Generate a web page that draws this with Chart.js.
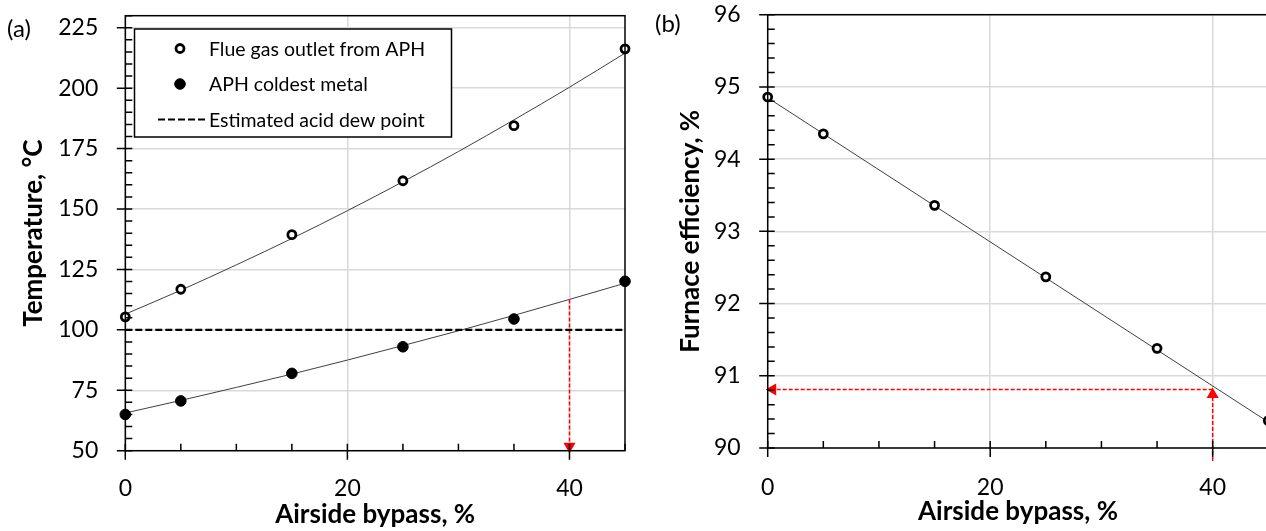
<!DOCTYPE html>
<html>
<head>
<meta charset="utf-8">
<script src="https://cdn.jsdelivr.net/npm/chart.js@4.4.0/dist/chart.umd.min.js"></script>
<style>
    html, body { margin: 0; padding: 0; background: #fff; overflow: hidden; }
    body { width: 1266px; height: 531px; position: relative; font-family: Lato, sans-serif; }
    canvas { position: absolute; top: 0; }
    #graficaA { left: 0; }
    #graficaB { left: 640px; }
    .panel { position: absolute; font-size: 24px; line-height: 28px; color: #000; }
</style>
</head>
<body>
<canvas id="graficaA" width="645" height="531"></canvas>
<canvas id="graficaB" width="660" height="531"></canvas>
<div class="panel" style="left:7px; top:14px">(a)</div>
<div class="panel" style="left:655px; top:9px">(b)</div>
<script>
// Datos
const bypass = [0, 5, 15, 25, 35, 45];
const flueGasOutlet = [105.4, 116.8, 139.4, 161.7, 184.5, 216.3];
const coldestMetal = [65.0, 70.6, 82.0, 93.0, 104.5, 120.1];
const dewPoint = 100;

// Lineas de tendencia
const trendX = [0, 5, 10, 15, 20, 25, 30, 35, 40, 45];
const flueTrend = [106.5, 116.4, 126.9, 137.8, 149.3, 161.3, 173.8, 186.9, 200.4, 214.5];
const metalTrend = [65.6, 70.8, 76.2, 81.7, 87.5, 93.5, 99.6, 106.0, 112.6, 119.3];

const efficiency = [94.86, 94.35, 93.36, 92.37, 91.38, 90.38];
const effTrendX = [0, 45];
const effTrend = [94.85, 90.36];

// Flechas rojas
const chosenBypass = 40;
const metalAtChosen = 112.6;
const arrowHeadA = 51.8;
const effAtChosen = 90.81;
const arrowStartB = 89.82;
const arrowHeadB = 90.74;
const arrowHeadBx = 0.45;

const majorX = [0, 20, 40];

Chart.defaults.font.family = 'Lato, sans-serif';
Chart.defaults.color = '#000';

const pares = (xs, ys) => xs.map((x, i) => ({ x, y: ys[i] }));

// Ejes con marcas mayores (cruzan) y menores (hacia dentro), y marco
const ejesPlugin = {
    id: 'ejes',
    afterDraw(chart) {
        const { ctx, chartArea: ca, scales: { x, y } } = chart;
        ctx.save();
        ctx.strokeStyle = '#000';
        ctx.lineWidth = 1.5;
        ctx.strokeRect(ca.left, ca.top, ca.right - ca.left, ca.bottom - ca.top);
        ctx.beginPath();
        x.ticks.forEach(t => {
            const px = x.getPixelForValue(t.value);
            if (t.label !== '') { ctx.moveTo(px, ca.bottom - 7); ctx.lineTo(px, ca.bottom + 9); }
            else { ctx.moveTo(px, ca.bottom - 7); ctx.lineTo(px, ca.bottom); }
        });
        y.ticks.forEach(t => {
            const py = y.getPixelForValue(t.value);
            if (t.label !== '') { ctx.moveTo(ca.left - 8.5, py); ctx.lineTo(ca.left + 7, py); }
            else { ctx.moveTo(ca.left, py); ctx.lineTo(ca.left + 7, py); }
        });
        ctx.stroke();
        ctx.restore();
    }
};

// Leyenda dibujada dentro del area del grafico (a)
const leyendaPlugin = {
    id: 'leyenda',
    afterDraw(chart) {
        const { ctx } = chart;
        const box = { left: 134.5, top: 29, right: 451.5, bottom: 137 };
        const filas = [48.5, 84, 119.5];
        ctx.save();
        ctx.fillStyle = '#fff';
        ctx.fillRect(box.left, box.top, box.right - box.left, box.bottom - box.top);
        ctx.strokeStyle = '#000';
        ctx.lineWidth = 1.5;
        ctx.strokeRect(box.left, box.top, box.right - box.left, box.bottom - box.top);
        const items = chart.data.datasets.filter(d => d.enLeyenda);
        items.forEach((d, i) => {
            const yy = filas[i];
            if (d.showLine) {
                ctx.beginPath();
                ctx.setLineDash(d.borderDash || []);
                ctx.lineWidth = d.borderWidth;
                ctx.strokeStyle = d.borderColor;
                ctx.moveTo(158, yy);
                ctx.lineTo(205, yy);
                ctx.stroke();
                ctx.setLineDash([]);
            } else {
                ctx.beginPath();
                ctx.arc(180, yy, d.pointRadius, 0, Math.PI * 2);
                ctx.fillStyle = d.pointBackgroundColor;
                ctx.fill();
                ctx.lineWidth = d.pointBorderWidth;
                ctx.strokeStyle = d.pointBorderColor;
                ctx.stroke();
            }
            ctx.fillStyle = '#000';
            ctx.font = '19.5px Lato, sans-serif';
            ctx.textBaseline = 'middle';
            ctx.fillText(d.label, 209, yy + 1);
        });
        ctx.restore();
    }
};

function escalaX(alto, padTicks, padTitulo) {
    return {
        type: 'linear', min: 0, max: 45,
        ticks: {
            stepSize: 5, autoSkip: false, maxRotation: 0, padding: padTicks,
            font: { size: 23 },
            callback: v => majorX.includes(v) ? String(v) : ''
        },
        grid: {
            drawTicks: false, lineWidth: 1.5,
            color: c => majorX.includes(c.tick && c.tick.value) ? '#d9d9d9' : 'rgba(0,0,0,0)'
        },
        border: { display: false },
        title: {
            display: true, text: 'Airside bypass, %',
            font: { size: 26, weight: 'bold' },
            padding: { top: 0, bottom: padTitulo }
        },
        afterFit: s => { s.height = alto; s.paddingLeft = 0; s.paddingRight = 0; }
    };
}

function escalaY(min, max, paso, esMayor, ancho, titulo, padTitulo) {
    return {
        type: 'linear', min, max,
        ticks: {
            stepSize: paso, autoSkip: false, padding: 27, font: { size: 23 },
            callback: v => esMayor(v) ? String(Math.round(v)) : ''
        },
        grid: {
            drawTicks: false, lineWidth: 1.5,
            color: c => (c.tick && esMayor(c.tick.value)) ? '#d9d9d9' : 'rgba(0,0,0,0)'
        },
        border: { display: false },
        title: {
            display: true, text: titulo,
            font: { size: 26, weight: 'bold' },
            padding: { top: padTitulo, bottom: 0 }
        },
        afterFit: s => { s.width = ancho; s.paddingTop = 0; s.paddingBottom = 0; }
    };
}

const ctxA = document.getElementById('graficaA').getContext('2d');
new Chart(ctxA, {
    type: 'scatter',
    data: {
        datasets: [
            {
                label: 'Flue gas outlet from APH', enLeyenda: true,
                data: pares(bypass, flueGasOutlet), showLine: false,
                pointRadius: 4, pointBorderWidth: 2.8,
                pointBackgroundColor: '#fff', pointBorderColor: '#000', clip: false
            },
            {
                label: 'APH coldest metal', enLeyenda: true,
                data: pares(bypass, coldestMetal), showLine: false,
                pointRadius: 5.3, pointBorderWidth: 1,
                pointBackgroundColor: '#000', pointBorderColor: '#000', clip: false
            },
            {
                label: 'Estimated acid dew point', enLeyenda: true,
                data: [{ x: 0, y: dewPoint }, { x: 45, y: dewPoint }], showLine: true,
                borderColor: '#000', borderWidth: 2.2, borderDash: [7, 3], pointRadius: 0
            },
            {
                label: 'red arrow',
                data: [{ x: chosenBypass, y: metalAtChosen }, { x: chosenBypass, y: arrowHeadA }],
                showLine: true, borderColor: '#ff0000', borderWidth: 1.5, borderDash: [4, 2],
                pointStyle: 'triangle', pointRadius: [0, 5.5], pointRotation: [0, 180],
                pointBackgroundColor: '#ff0000', pointBorderColor: '#ff0000', clip: false
            },
            {
                label: 'flue trend', data: pares(trendX, flueTrend), showLine: true,
                borderColor: '#404040', borderWidth: 1, pointRadius: 0, cubicInterpolationMode: 'monotone'
            },
            {
                label: 'metal trend', data: pares(trendX, metalTrend), showLine: true,
                borderColor: '#404040', borderWidth: 1, pointRadius: 0, cubicInterpolationMode: 'monotone'
            }
        ]
    },
    options: {
        responsive: false,
        animation: false,
        layout: { padding: { left: 0, top: 15.7, right: 20, bottom: 0 } },
        plugins: { legend: { display: false }, tooltip: { enabled: false } },
        scales: {
            x: escalaX(80.3, 24, 1),
            y: escalaY(50, 230, 5, v => v % 25 === 0 && v <= 225, 125.3, 'Temperature, °C', 18)
        }
    },
    plugins: [ejesPlugin, leyendaPlugin]
});

const esEntero = v => Math.abs(v - Math.round(v)) < 1e-6;

const ctxB = document.getElementById('graficaB').getContext('2d');
new Chart(ctxB, {
    type: 'scatter',
    data: {
        datasets: [
            {
                label: 'Furnace efficiency',
                data: pares(bypass, efficiency), showLine: false,
                pointRadius: 4, pointBorderWidth: 2.8,
                pointBackgroundColor: '#fff', pointBorderColor: '#000', clip: false
            },
            {
                label: 'vertical arrow',
                data: [{ x: chosenBypass, y: arrowStartB }, { x: chosenBypass, y: arrowHeadB }],
                showLine: true, borderColor: '#ff0000', borderWidth: 1.5, borderDash: [4, 2],
                pointStyle: 'triangle', pointRadius: [0, 5.5], pointRotation: [0, 0],
                pointBackgroundColor: '#ff0000', pointBorderColor: '#ff0000', clip: false
            },
            {
                label: 'horizontal arrow',
                data: [{ x: chosenBypass, y: effAtChosen }, { x: arrowHeadBx, y: effAtChosen }],
                showLine: true, borderColor: '#ff0000', borderWidth: 1.5, borderDash: [4, 2],
                pointStyle: 'triangle', pointRadius: [0, 5.5], pointRotation: [0, 270],
                pointBackgroundColor: '#ff0000', pointBorderColor: '#ff0000', clip: false
            },
            {
                label: 'efficiency trend', data: pares(effTrendX, effTrend), showLine: true,
                borderColor: '#404040', borderWidth: 1, pointRadius: 0
            }
        ]
    },
    options: {
        responsive: false,
        animation: false,
        layout: { padding: { left: 0, top: 14.7, right: 31.7, bottom: 0 } },
        plugins: { legend: { display: false }, tooltip: { enabled: false } },
        scales: {
            x: escalaX(83, 26, 3.4),
            y: escalaY(90, 96, 0.2, esEntero, 127.7, 'Furnace efficiency, %', 35)
        }
    },
    plugins: [ejesPlugin]
});
</script>
</body>
</html>
